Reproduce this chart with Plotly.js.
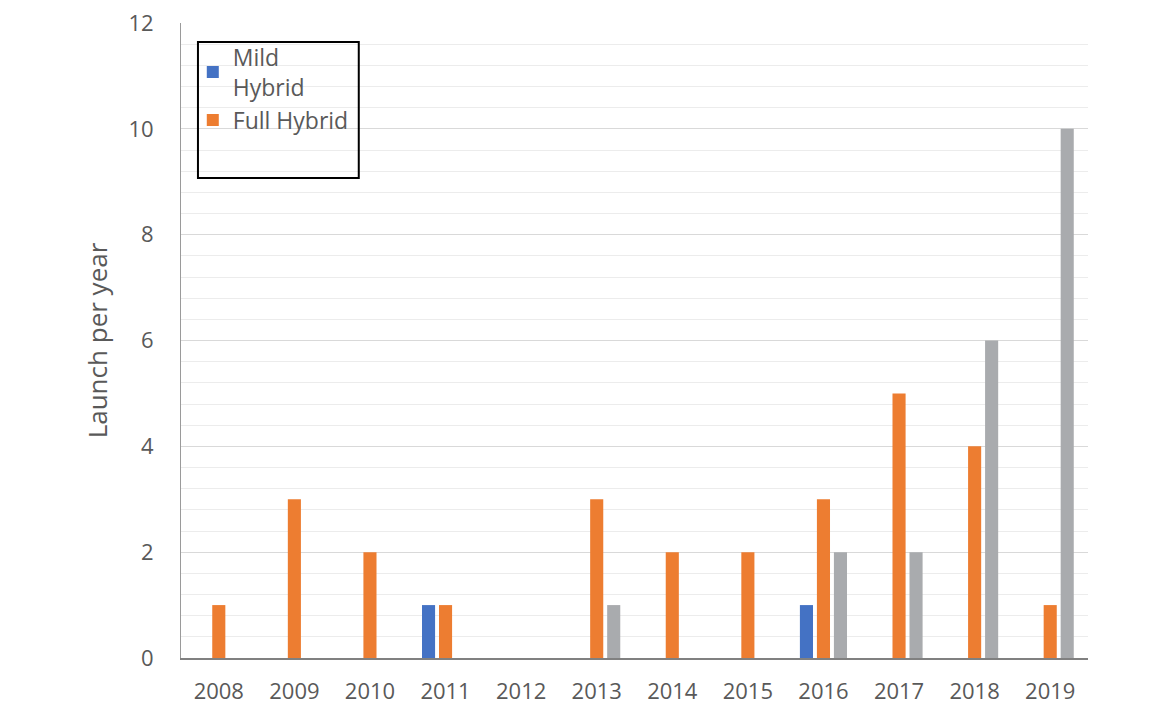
<!DOCTYPE html>
<html>
<head>
<meta charset="utf-8">
<script src="https://cdn.plot.ly/plotly-3.0.1.min.js"></script>
<style>html,body{margin:0;padding:0;background:#fff;}#chart{width:1164px;height:707px;}</style>
</head>
<body>
<div id="chart"></div>
<script>
const years = ['2008','2009','2010','2011','2012','2013','2014','2015','2016','2017','2018','2019'];
const mildHybrid = [0,0,0,1,0,0,0,0,1,0,0,0];
const fullHybrid = [1,3,2,1,0,3,2,2,3,5,4,1];
const thirdSeries = [0,0,0,0,0,1,0,0,2,2,6,10];
const yTicks = [0,2,4,6,8,10,12];

const fam = '"Open Sans", "Noto Sans", sans-serif';
const tickFont = {family: fam, size: 22, color: '#595959'};
const legFont = {family: fam, size: 23, color: '#595959'};
const titleFont = {family: fam, size: 26, color: '#595959'};

const traces = [
  {type:'bar', x: years, y: mildHybrid, name:'Mild<br>Hybrid', marker:{color:'#4472C4', line:{width:0}}},
  {type:'bar', x: years, y: fullHybrid, name:'Full Hybrid', marker:{color:'#ED7D31', line:{width:0}}},
  {type:'bar', x: years, y: thirdSeries, name:'', showlegend:false, marker:{color:'#A9ABAE', line:{width:0}}}
];

const layout = {
  width:1164, height:707,
  margin:{l:181, r:76, t:23, b:49},
  paper_bgcolor:'#fff', plot_bgcolor:'#fff',
  font: tickFont,
  barmode:'group', bargap:0.325, bargroupgap:0.23,
  showlegend:true,
  legend:{x:0.013, y:0.98, xanchor:'left', yanchor:'top', bgcolor:'rgba(0,0,0,0)', borderwidth:0, font:legFont, tracegroupgap:6},
  xaxis:{type:'category', showgrid:false, showline:true, linecolor:'#808080', linewidth:1.5, ticks:'', tickfont:tickFont, ticklabelstandoff:13, zeroline:false},
  yaxis:{range:[0,12], tickvals:yTicks, showline:true, linecolor:'#9a9a9a', linewidth:1, gridcolor:'#d9d9d9', gridwidth:1.2, zeroline:false, ticks:'', tickfont:tickFont, ticklabelstandoff:22,
    minor:{dtick:0.4, tick0:0, showgrid:true, gridcolor:'#ececec', gridwidth:1},
    title:{text:'Launch per year', font:titleFont, standoff:13}},
  shapes:[{type:'rect', xref:'paper', yref:'paper', x0:0.0187, x1:0.196, y0:0.756, y1:0.970, line:{color:'#000', width:2}, fillcolor:'rgba(0,0,0,0)'}]
};

Plotly.newPlot('chart', traces, layout, {displayModeBar:false, staticPlot:true});
</script>
</body>
</html>
